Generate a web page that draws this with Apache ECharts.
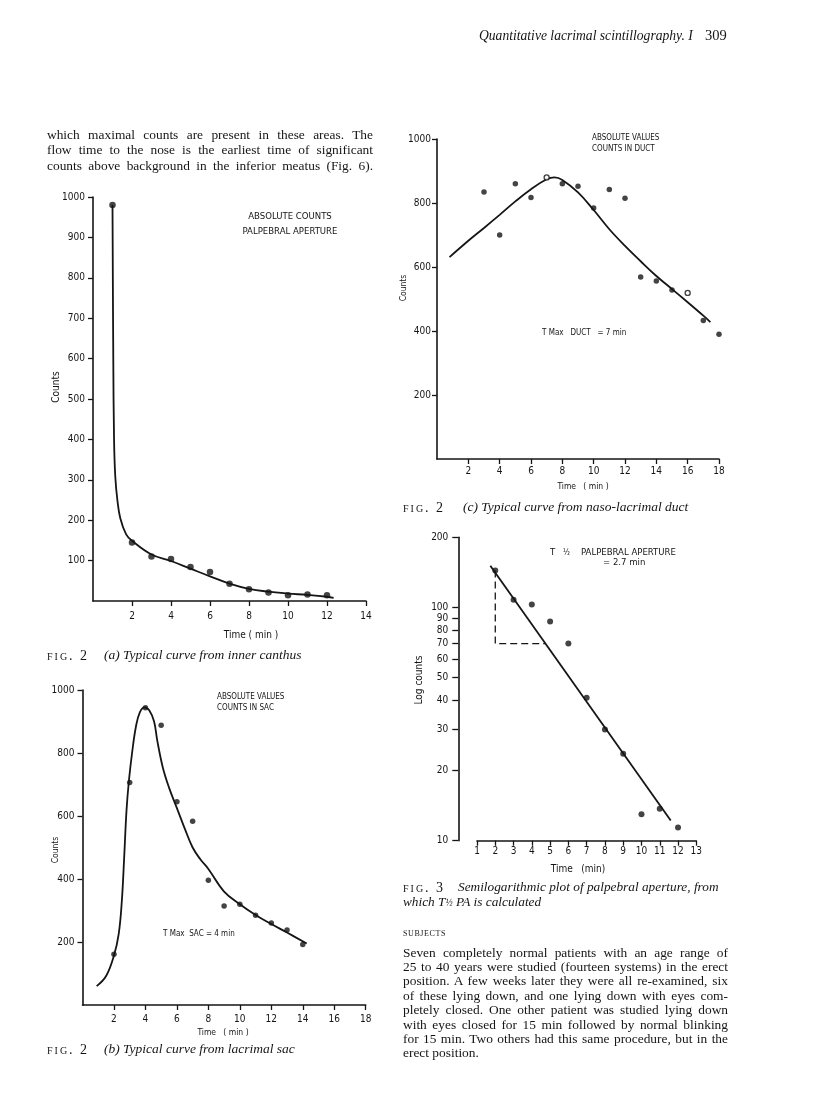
<!DOCTYPE html>
<html>
<head>
<meta charset="utf-8">
<script src="https://cdn.jsdelivr.net/npm/echarts@6/dist/echarts.min.js"></script>
<style>
html,body{margin:0;padding:0;background:#fff;}
#page{position:relative;width:816px;height:1114px;overflow:hidden;background:#fff;}
#chart{position:absolute;left:0;top:0;width:816px;height:1114px;}
.t{position:absolute;font-family:"Liberation Serif","DejaVu Serif",serif;color:#151515;white-space:nowrap;}
.jl{display:block;text-align:justify;text-align-last:justify;white-space:nowrap;}
.sc{font-variant:small-caps;letter-spacing:2px;font-style:normal;}
.it{font-style:italic;}
</style>
</head>
<body>
<div id="page">
  <div id="chart"></div>

  <div class="t it" style="left:479px;top:28px;font-size:13.6px;">Quantitative lacrimal scintillography. I</div>
  <div class="t" style="left:705px;top:27px;font-size:14.5px;">309</div>

  <div class="t" style="left:47px;top:127px;width:326px;font-size:13.4px;line-height:15.3px;">
    <span class="jl">which maximal counts are present in these areas. The</span>
    <span class="jl">flow time to the nose is the earliest time of significant</span>
    <span class="jl">counts above background in the inferior meatus (Fig. 6).</span>
  </div>

  <div class="t" style="left:47px;top:648px;font-size:14px;line-height:16px;"><span class="sc">fig. 2</span></div>
  <div class="t it" style="left:104px;top:647px;font-size:13.5px;line-height:16px;">(a) Typical curve from inner canthus</div>

  <div class="t" style="left:403px;top:500px;font-size:14px;line-height:16px;"><span class="sc">fig. 2</span></div>
  <div class="t it" style="left:463px;top:499px;font-size:13.5px;line-height:16px;">(c) Typical curve from naso-lacrimal duct</div>

  <div class="t" style="left:47px;top:1042px;font-size:14px;line-height:16px;"><span class="sc">fig. 2</span></div>
  <div class="t it" style="left:104px;top:1041px;font-size:13.5px;line-height:16px;">(b) Typical curve from lacrimal sac</div>

  <div class="t" style="left:403px;top:880px;font-size:14px;line-height:16px;"><span class="sc">fig. 3</span></div>
  <div class="t it" style="left:458px;top:879px;font-size:13.3px;line-height:16px;">Semilogarithmic plot of palpebral aperture, from</div>
  <div class="t it" style="left:403px;top:894px;font-size:13.3px;line-height:16px;">which <i>T</i><span style="font-size:9.5px;">½</span> <i>PA</i> is calculated</div>

  <div class="t" style="left:403px;top:925px;font-size:12px;line-height:14px;"><span class="sc" style="letter-spacing:0.6px;">subjects</span></div>

  <div class="t" style="left:403px;top:945.5px;width:325px;font-size:13.4px;line-height:14.4px;">
    <span class="jl">Seven completely normal patients with an age range of</span>
    <span class="jl">25 to 40 years were studied (fourteen systems) in the erect</span>
    <span class="jl">position. A few weeks later they were all re-examined, six</span>
    <span class="jl">of these lying down, and one lying down with eyes com-</span>
    <span class="jl">pletely closed. One other patient was studied lying down</span>
    <span class="jl">with eyes closed for 15 min followed by normal blinking</span>
    <span class="jl">for 15 min. Two others had this same procedure, but in the</span>
    <span class="jl" style="text-align:left;text-align-last:left;">erect position.</span>
  </div>
</div>

<script>
// ---------- DATA ----------
// Fig. 2 (a) inner canthus (palpebral aperture)
const timeA = [1, 2, 3, 4, 5, 6, 7, 8, 9, 10, 11, 12];
const countsA = [980, 145, 110, 104, 84, 72, 43, 29, 21, 14, 16, 14];
const fitTimeA = [1, 1.04, 1.08, 1.14, 1.25, 1.4, 1.7, 2, 3, 4, 5, 6, 7, 8, 9, 10, 11, 12, 12.34];
const fitCountsA = [980, 600, 400, 310, 250, 205, 165, 149, 115, 99, 80, 61, 43, 30, 23, 18.5, 15, 10.5, 8];
const xTicksA = [0, 14, 2];
const yTicksA = [0, 1000, 100];

// Fig. 2 (c) naso-lacrimal duct
const timeC = [3, 4, 5, 6, 8, 9, 10, 11, 12, 13, 14, 15, 17, 18];
const countsC = [834, 700, 860, 817, 860, 852, 784, 842, 815, 569, 556, 528, 433, 390];
const openTimeC = [7, 16];
const openCountsC = [880, 519];
const fitTimeC = [0.8, 2, 3, 4, 5, 6, 7, 7.5, 8, 9, 10, 11, 12, 13, 14, 15, 16, 17, 17.45];
const fitCountsC = [631, 682, 722, 763, 805, 843, 874, 880, 872, 833, 778, 718, 666, 618, 572, 531, 490, 448, 428];
const xTicksC = [0, 18, 2];
const yTicksC = [0, 1000, 200];

// Fig. 2 (b) lacrimal sac
const timeB = [2, 3, 4, 5, 6, 7, 8, 9, 10, 11, 12, 13, 14];
const countsB = [161, 706, 944, 888, 645, 583, 396, 314, 320, 285, 260, 238, 192];
const fitTimeB = [0.9, 1.5, 2, 2.3, 2.5, 2.65, 2.8, 2.95, 3.15, 3.4, 3.65, 3.95, 4.25, 4.55, 4.75, 5.1, 5.5, 6, 6.5, 7, 7.5, 8, 9, 10, 11, 12, 13, 14.25];
const fitCountsB = [60, 92, 157, 225, 330, 470, 620, 712, 800, 885, 930, 945, 935, 900, 840, 755, 690, 625, 560, 500, 462, 432, 360, 320, 286, 257, 230, 195];
const xTicksB = [0, 18, 2];
const yTicksB = [0, 1000, 200];

// Fig. 3 semilog palpebral aperture
const timeP = [2, 3, 4, 5, 6, 7, 8, 9, 10, 11, 12];
const countsP = [144, 108, 103, 87, 70, 41, 30, 23.6, 13, 13.7, 11.4];
const fitTimeP = [1.73, 11.6];
const fitCountsP = [151, 12.2];
const halfTimeP = [2, 2, 4.75];
const halfCountsP = [144, 70, 70];
const xTicksP = [1, 13, 1];
const yTicksP = [10, 20, 30, 40, 50, 60, 70, 80, 90, 100, 200];

// ---------- CHART ----------
const zip = (xs, ys) => xs.map((x, i) => [x, ys[i]]);
const INK = '#151515';
const NARROW = '"DejaVu Sans Condensed","Liberation Sans Narrow","Roboto Condensed","DejaVu Sans",sans-serif';
const plain = (v) => String(v);

function linAxis(gridIndex, ticks, margin, showMin) {
  return {
    type: 'value', gridIndex: gridIndex,
    min: ticks[0], max: ticks[1], interval: ticks[2],
    splitLine: { show: false },
    axisLine: { show: true, onZero: false, lineStyle: { color: INK, width: 1.6 } },
    axisTick: { show: true, length: 5, lineStyle: { color: INK, width: 1.3 } },
    axisLabel: { color: INK, fontFamily: NARROW, fontSize: 10, margin: margin, showMinLabel: showMin, showMaxLabel: true, formatter: plain }
  };
}

const grids = [
  { left: 93, top: 197, width: 273, height: 404 },   // a
  { left: 437, top: 139, width: 282, height: 320 },  // c
  { left: 82.5, top: 690, width: 283.2, height: 315 }, // b
  { left: 477, top: 537.3, width: 219.3, height: 303.4 } // fig 3
];

const xAxes = [
  linAxis(0, xTicksA, 10, false),
  linAxis(1, xTicksC, 7, false),
  linAxis(2, xTicksB, 9, false),
  linAxis(3, xTicksP, 6, true)
];
const yAxes = [
  linAxis(0, yTicksA, 8, false),
  linAxis(1, yTicksC, 6, false),
  linAxis(2, yTicksB, 8, false),
  {
    type: 'log', gridIndex: 3, logBase: 10, min: yTicksP[0], max: yTicksP[yTicksP.length - 1],
    offset: 18.7,
    splitLine: { show: false },
    axisLine: { show: true, lineStyle: { color: INK, width: 1.6 } },
    axisTick: { show: true, length: 6, customValues: yTicksP, lineStyle: { color: INK, width: 1.3 } },
    axisLabel: { color: INK, fontFamily: NARROW, fontSize: 10, margin: 10, customValues: yTicksP, formatter: plain }
  }
];

const lineStyle = { color: INK, width: 1.8 };
const dot = (size) => ({ symbol: 'circle', symbolSize: size, itemStyle: { color: INK } });
const fit = (xi, data, smooth) => ({ type: 'line', xAxisIndex: xi, yAxisIndex: xi, data: data, showSymbol: false, smooth: smooth, lineStyle: lineStyle, z: 2 });

const series = [
  fit(0, zip(fitTimeA, fitCountsA), 0.4),
  Object.assign({ type: 'scatter', xAxisIndex: 0, yAxisIndex: 0, data: zip(timeA, countsA), z: 3 }, dot(6.5)),

  fit(1, zip(fitTimeC, fitCountsC), 0.4),
  Object.assign({ type: 'scatter', xAxisIndex: 1, yAxisIndex: 1, data: zip(timeC, countsC), z: 3 }, dot(5.5)),
  { type: 'scatter', xAxisIndex: 1, yAxisIndex: 1, data: zip(openTimeC, openCountsC), symbol: 'circle', symbolSize: 5, itemStyle: { color: '#fff', borderColor: INK, borderWidth: 1.4 }, z: 4 },

  fit(2, zip(fitTimeB, fitCountsB), 0.4),
  Object.assign({ type: 'scatter', xAxisIndex: 2, yAxisIndex: 2, data: zip(timeB, countsB), z: 3 }, dot(5.5)),

  fit(3, zip(fitTimeP, fitCountsP), false),
  { type: 'line', xAxisIndex: 3, yAxisIndex: 3, data: zip(halfTimeP, halfCountsP), showSymbol: false, lineStyle: { color: INK, width: 1.3, type: [7, 4] }, z: 1 },
  Object.assign({ type: 'scatter', xAxisIndex: 3, yAxisIndex: 3, data: zip(timeP, countsP), z: 3 }, dot(6))
];

function txt(x, y, text, opts) {
  const o = opts || {};
  return {
    type: 'text', x: x, y: y, rotation: o.rot || 0, silent: true,
    style: {
      text: text, fill: INK,
      fontFamily: o.family || NARROW, fontSize: o.size || 9, fontWeight: o.weight || 'normal',
      textAlign: o.align || 'left', textVerticalAlign: 'middle'
    }
  };
}

const graphics = [
  // (a)
  txt(290, 217, 'ABSOLUTE COUNTS', { align: 'center', size: 9.5 }),
  txt(290, 232, 'PALPEBRAL APERTURE', { align: 'center', size: 9.5 }),
  txt(56, 387, 'Counts', { align: 'center', size: 10, rot: Math.PI / 2 }),
  txt(251, 635, 'Time ( min )', { align: 'center', size: 10 }),
  // (c)
  txt(592, 138, 'ABSOLUTE VALUES', { size: 8 }),
  txt(592, 148.5, 'COUNTS IN DUCT', { size: 8 }),
  txt(542, 333, 'T Max   DUCT   = 7 min', { size: 8 }),
  txt(404, 288, 'Counts', { align: 'center', size: 8.5, rot: Math.PI / 2 }),
  txt(583, 487, 'Time   ( min )', { align: 'center', size: 8.5 }),
  // (b)
  txt(217, 697, 'ABSOLUTE VALUES', { size: 8 }),
  txt(217, 708, 'COUNTS IN SAC', { size: 8 }),
  txt(163, 934, 'T Max  SAC = 4 min', { size: 8 }),
  txt(56, 850, 'Counts', { align: 'center', size: 8.5, rot: Math.PI / 2 }),
  txt(223, 1033, 'Time   ( min )', { align: 'center', size: 8.5 }),
  // fig 3
  txt(550, 552.7, 'T', { size: 9.5 }),
  txt(563, 552.7, '½', { size: 8 }),
  txt(581, 552.7, 'PALPEBRAL APERTURE', { size: 9.5 }),
  txt(603, 562.5, '= 2.7 min', { size: 9.5 }),
  txt(419, 680, 'Log counts', { align: 'center', size: 10, rot: Math.PI / 2 }),
  txt(578, 869, 'Time   (min)', { align: 'center', size: 10 })
];

const chart = echarts.init(document.getElementById('chart'), null, { renderer: 'canvas' });
chart.setOption({
  animation: false,
  backgroundColor: 'transparent',
  grid: grids,
  xAxis: xAxes,
  yAxis: yAxes,
  series: series,
  graphic: graphics
});
</script>
</body>
</html>
